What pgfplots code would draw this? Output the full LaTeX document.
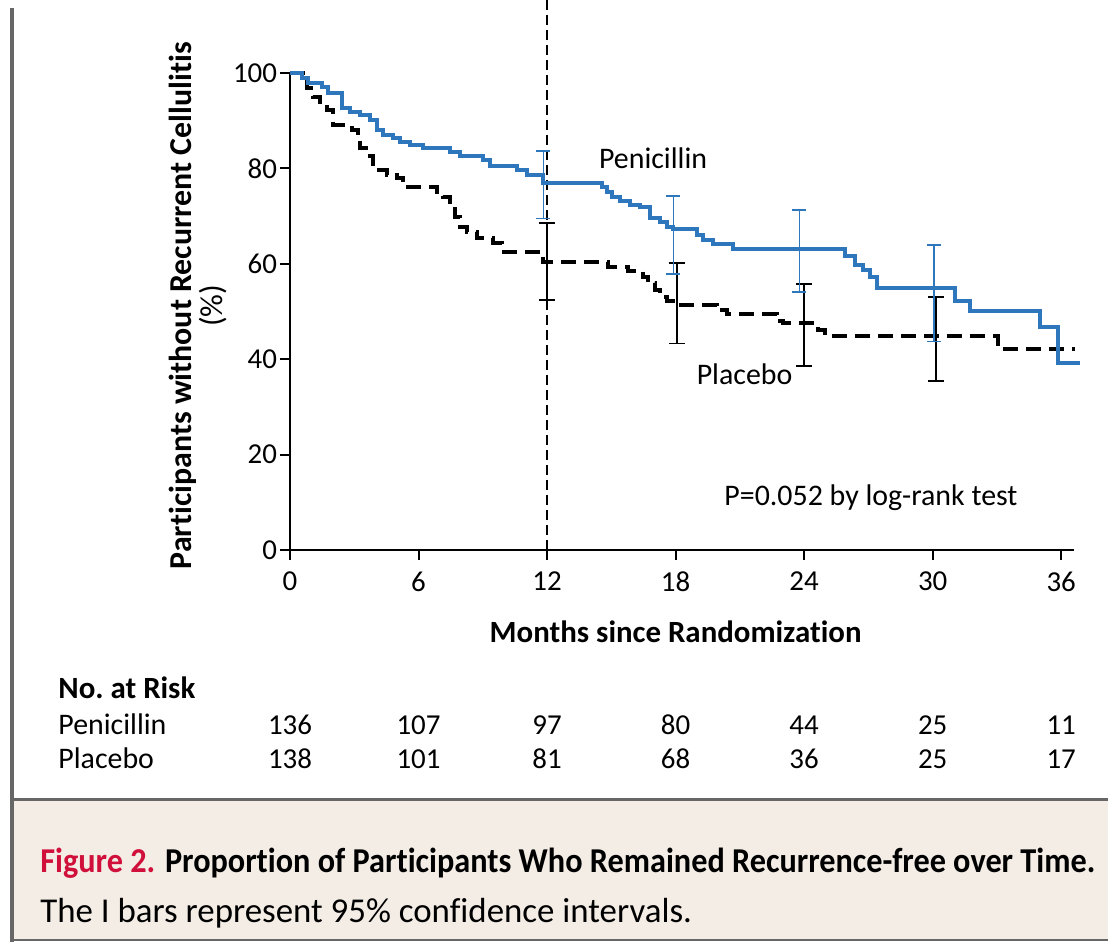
\documentclass[border=0pt]{standalone}
\usepackage{pgfplots}
\pgfplotsset{compat=1.18}
\usepackage{fontspec}
\setmainfont{Carlito}[Ligatures=NoCommon]
\newfontfamily\capfont{Carlito}[Ligatures=NoCommon]
\newfontfamily\capfontb{Carlito}[Ligatures=NoCommon, FakeStretch=0.925]
\definecolor{penblue}{HTML}{2F77BD}
\definecolor{capred}{HTML}{D0103A}
\definecolor{beige}{HTML}{F3EDE6}
\definecolor{framegray}{HTML}{666666}

\pgfplotstableread{
x y
0 100
0.55 98.9
0.86 98.0
1.48 97.1
1.79 95.7
2.41 92.6
2.80 91.9
3.27 91.2
3.73 90.1
4.05 88.1
4.36 87.0
4.82 86.3
5.14 85.6
5.60 84.9
6.22 84.2
7.47 83.5
7.94 82.5
9.02 81.8
9.34 80.4
10.58 79.7
11.05 78.6
11.83 77.0
14.55 76.2
14.78 75.1
15.02 74.1
15.41 73.2
15.87 72.3
16.34 71.8
16.81 69.5
17.27 68.7
17.59 67.8
17.90 67.3
19.00 66.0
19.30 65.0
19.76 64.2
20.70 63.2
25.91 61.6
26.38 59.7
26.77 58.6
27.08 57.3
27.39 54.9
31.05 52.1
31.75 50.0
35.00 46.7
35.87 39.3
36.90 39.3
}\pen

\pgfplotstableread{
x y
0 100
0.62 98.5
0.78 96.8
1.09 95.0
1.40 94.0
1.71 92.2
2.02 89.1
2.49 88.4
2.88 88.1
3.19 86.7
3.27 84.2
3.73 82.5
3.89 79.7
4.51 78.6
4.98 77.9
5.29 76.2
6.85 75.1
7.16 74.1
7.47 72.0
7.70 69.9
7.94 67.8
8.25 66.7
8.72 65.3
9.49 64.3
9.88 62.5
11.83 60.4
14.86 59.4
15.80 58.4
16.49 57.3
16.73 55.9
17.04 54.5
17.27 53.1
17.59 52.3
18.10 51.4
19.92 50.3
20.39 49.5
22.72 48.6
22.88 47.9
23.00 47.5
24.67 46.1
24.98 44.9
33.07 42.1
36.65 42.1
}\plac

\pgfplotstableread{
x y ep em
11.83 77.0 6.7 7.5
17.90 67.3 6.9 9.4
23.78 63.2 8.1 9.2
30.07 54.9 9.0 11.2
}\penci

\pgfplotstableread{
x y ep em
11.98 60.4 8.1 8.0
18.05 51.4 8.7 8.1
24.00 47.4 8.3 8.8
30.16 44.9 8.2 9.5
}\placci

\begin{document}
\begin{tikzpicture}[x=1bp,y=1bp,
  risk/.style={anchor=base, font=\fontsize{14.5}{18}\selectfont, inner sep=0pt}]
\path[use as bounding box, fill=white] (0,0) rectangle (554,471);
\fill[beige] (7,1.5) rectangle (554,70.5);
\draw[framegray, line width=1.5bp] (5,71.2) -- (554,71.2);
\draw[framegray, line width=1.2bp] (5,1) -- (554,1);
\draw[framegray, line width=2bp] (6.2,0) -- (6.2,467);
\node[anchor=base west, inner sep=0pt, font=\capfontb\fontsize{17.5}{20}\selectfont\bfseries] at (20,34.5)
  {\textcolor{capred}{Figure 2.} Proportion of Participants Who Remained Recurrence-free over Time.};
\node[anchor=base west, inner sep=0pt, font=\capfont\fontsize{17.5}{20}\selectfont] at (20,9.5)
  {The I bars represent 95\% confidence intervals.};

\begin{axis}[
  at={(145bp,196bp)}, anchor=south west,
  scale only axis, width=392bp, height=238.5bp,
  xmin=0, xmax=36.6, ymin=0, ymax=100,
  axis x line*=bottom, axis y line*=left,
  axis line style={-, line width=1bp},
  xtick={0,6,...,36}, ytick={0,20,...,100},
  tick align=outside, major tick length=5bp,
  tick style={line width=1bp, black},
  /pgf/number format/assume math mode=true,
  ticklabel style={font=\fontsize{14.5}{16}\selectfont},
  xticklabel style={yshift=-2.5bp},
  yticklabel style={xshift=2bp},
  clip=false,
]
\addplot[black, line width=0.8bp, dash pattern=on 5bp off 2.5bp] coordinates {(12,0) (12,115.3)};
\addplot[black, line width=2bp, const plot mark left, dash pattern=on 7.5bp off 4bp] table[x=x,y=y] {\plac};
\addplot[penblue, line width=2bp, const plot mark left] table[x=x,y=y] {\pen};
\addplot[draw=none, mark=none, forget plot, error bars/.cd, y dir=both, y explicit, error mark=-,
  error bar style={line width=0.9bp, black, solid}, error mark options={rotate=90, line width=0.9bp, mark size=4bp, black, solid}]
  table[x=x,y=y,y error plus=ep,y error minus=em] {\placci};
\addplot[draw=none, mark=none, forget plot, error bars/.cd, y dir=both, y explicit, error mark=-,
  error bar style={line width=0.9bp, penblue, solid}, error mark options={rotate=90, line width=0.9bp, mark size=3.5bp, penblue, solid}]
  table[x=x,y=y,y error plus=ep,y error minus=em] {\penci};

\node[font=\fontsize{15}{18}\selectfont] at (axis cs:16.95,82.2) {Penicillin};
\node[font=\fontsize{15}{18}\selectfont] at (axis cs:21.22,36.9) {Placebo};
\node[font=\fontsize{15}{18}\selectfont] at (axis cs:27.12,10.9) {P=0.052 by log-rank test};
\node[font=\fontsize{15.5}{18}\selectfont\bfseries] at (axis cs:18,-17.2) {Months since Randomization};
\node[rotate=90, align=center, font=\fontsize{16}{14}\selectfont] at (axis cs:-4.3,51.2)
  {\textbf{Participants without Recurrent Cellulitis}\\(\%)};

\node[anchor=base west, font=\fontsize{15.5}{18}\selectfont\bfseries, inner sep=0pt] at (axis cs:-10.83,-31.2) {No.\ at Risk};
\node[anchor=base west, font=\fontsize{15}{18}\selectfont, inner sep=0pt] at (axis cs:-10.83,-38.6) {Penicillin};
\node[anchor=base west, font=\fontsize{15}{18}\selectfont, inner sep=0pt] at (axis cs:-10.83,-45.9) {Placebo};
\node[risk] at (axis cs:0,-38.6) {136};
\node[risk] at (axis cs:6,-38.6) {107};
\node[risk] at (axis cs:12,-38.6) {97};
\node[risk] at (axis cs:18,-38.6) {80};
\node[risk] at (axis cs:24,-38.6) {44};
\node[risk] at (axis cs:30,-38.6) {25};
\node[risk] at (axis cs:36,-38.6) {11};
\node[risk] at (axis cs:0,-45.9) {138};
\node[risk] at (axis cs:6,-45.9) {101};
\node[risk] at (axis cs:12,-45.9) {81};
\node[risk] at (axis cs:18,-45.9) {68};
\node[risk] at (axis cs:24,-45.9) {36};
\node[risk] at (axis cs:30,-45.9) {25};
\node[risk] at (axis cs:36,-45.9) {17};
\end{axis}
\end{tikzpicture}
\end{document}
